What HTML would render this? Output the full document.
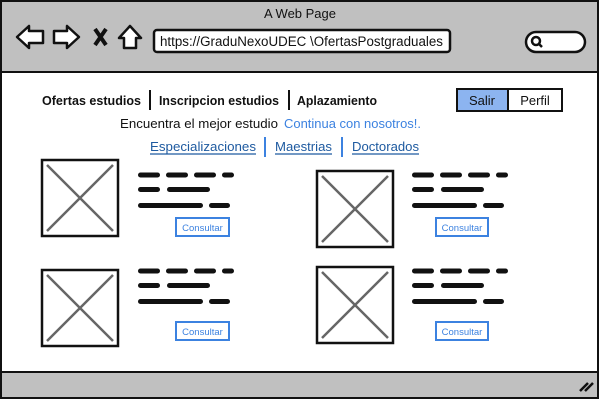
<!DOCTYPE html>
<html><head><meta charset="utf-8"><style>
body{margin:0;background:#fff}
svg{display:block}
text{font-family:"Liberation Sans",sans-serif}
</style></head><body>
<svg width="600" height="400" viewBox="0 0 600 400" xmlns="http://www.w3.org/2000/svg">
<defs>
<g id="scr" fill="#111">
<rect x="0" y="-2.5" width="22" height="5" rx="2.5"/><rect x="28" y="-2.5" width="22" height="5" rx="2.5"/><rect x="56" y="-2.5" width="22" height="5" rx="2.5"/><rect x="84" y="-2.5" width="12" height="5" rx="2.5"/>
<rect x="0" y="12" width="22" height="5" rx="2.5"/><rect x="29" y="12" width="43" height="5" rx="2.5"/>
<rect x="0" y="28" width="65" height="5" rx="2.5"/><rect x="71" y="28" width="21" height="5" rx="2.5"/>
</g>
<g id="img"><rect x="0" y="0" width="76" height="76" fill="#fff" stroke="#111" stroke-width="2.5"/><path d="M5 5L71 71M71 5L5 71" stroke="#666" stroke-width="2.5"/></g>
</defs>
<rect x="1" y="1" width="597" height="397" fill="#fff" stroke="#111" stroke-width="2"/>
<rect x="2" y="2" width="595" height="70" fill="#c0c0c0"/>
<line x1="2" y1="72" x2="597" y2="72" stroke="#111" stroke-width="2"/>
<rect x="2" y="372" width="595" height="25" fill="#c0c0c0"/>
<line x1="2" y1="372" x2="597" y2="372" stroke="#111" stroke-width="2"/>
<path d="M580 391L588 383M585 391L593 383" stroke="#111" stroke-width="2.5"/>
<text x="300" y="18" font-size="13" text-anchor="middle" fill="#111">A Web Page</text>
<path d="M17 37L29 26V31H43V43H29V48Z" fill="#fff" stroke="#111" stroke-width="2.5" stroke-linejoin="round"/>
<path d="M79 37L67 26V31H54V43H67V48Z" fill="#fff" stroke="#111" stroke-width="2.5" stroke-linejoin="round"/>
<path d="M95 29L106 45M106 29L95 45" stroke="#111" stroke-width="4"/>
<path d="M130 26L141 38H136V48H124V38H119Z" fill="#fff" stroke="#111" stroke-width="2.5" stroke-linejoin="round"/>
<rect x="154" y="30" width="296" height="22" rx="3" fill="#fff" stroke="#111" stroke-width="2.5"/>
<text x="160" y="46" font-size="13.5" fill="#111" textLength="283" lengthAdjust="spacingAndGlyphs">https://GraduNexoUDEC \OfertasPostgraduales</text>
<rect x="526" y="32" width="59" height="20" rx="10" fill="#fff" stroke="#111" stroke-width="2.5"/>
<circle cx="536" cy="41" r="4" fill="none" stroke="#111" stroke-width="2.5"/><line x1="539" y1="44" x2="542" y2="47" stroke="#111" stroke-width="2.5"/>
<g font-size="13" font-weight="bold" fill="#111">
<text x="42" y="105" textLength="99" lengthAdjust="spacingAndGlyphs">Ofertas estudios</text>
<text x="159" y="105" textLength="120" lengthAdjust="spacingAndGlyphs">Inscripcion estudios</text>
<text x="297" y="105" textLength="80" lengthAdjust="spacingAndGlyphs">Aplazamiento</text>
</g>
<path d="M150 90V110M289 90V110" stroke="#111" stroke-width="2"/>
<rect x="457" y="89" width="51" height="22" fill="#8cb4f0"/>
<rect x="457" y="89" width="105" height="22" fill="none" stroke="#111" stroke-width="2"/>
<line x1="508" y1="89" x2="508" y2="111" stroke="#111" stroke-width="2"/>
<text x="482" y="105" font-size="13" text-anchor="middle" fill="#111">Salir</text>
<text x="535" y="105" font-size="13" text-anchor="middle" fill="#111">Perfil</text>
<text x="120" y="128" font-size="13" fill="#111" textLength="158" lengthAdjust="spacingAndGlyphs">Encuentra el mejor estudio</text>
<text x="284" y="128" font-size="13" fill="#3c82e0" textLength="137" lengthAdjust="spacingAndGlyphs">Continua con nosotros!.</text>
<g font-size="13" fill="#1e5aa0">
<text x="150" y="151" textLength="106" lengthAdjust="spacingAndGlyphs">Especializaciones</text><text x="275" y="151" textLength="57" lengthAdjust="spacingAndGlyphs">Maestrias</text><text x="352" y="151" textLength="67" lengthAdjust="spacingAndGlyphs">Doctorados</text>
</g>
<path d="M150 154H256M275 154H332M352 154H419" stroke="#1e5aa0" stroke-width="1.2"/>
<path d="M265 137V157M342 137V157" stroke="#3c82e0" stroke-width="2"/>
<use href="#img" x="42" y="160"/><use href="#img" x="317" y="171"/>
<use href="#img" x="42" y="270"/><use href="#img" x="317" y="267"/>
<use href="#scr" x="138" y="175"/><use href="#scr" x="412" y="175"/>
<use href="#scr" x="138" y="271"/><use href="#scr" x="412" y="271"/>
<g fill="#fff" stroke="#3c82e0" stroke-width="2">
<rect x="176" y="218" width="53" height="18"/><rect x="436" y="218" width="52" height="18"/>
<rect x="176" y="322" width="53" height="18"/><rect x="436" y="322" width="52" height="18"/>
</g>
<g font-size="9.5" fill="#3c82e0" text-anchor="middle">
<text x="202.5" y="231">Consultar</text><text x="462" y="231">Consultar</text>
<text x="202.5" y="335">Consultar</text><text x="462" y="335">Consultar</text>
</g>
</svg>
</body></html>
